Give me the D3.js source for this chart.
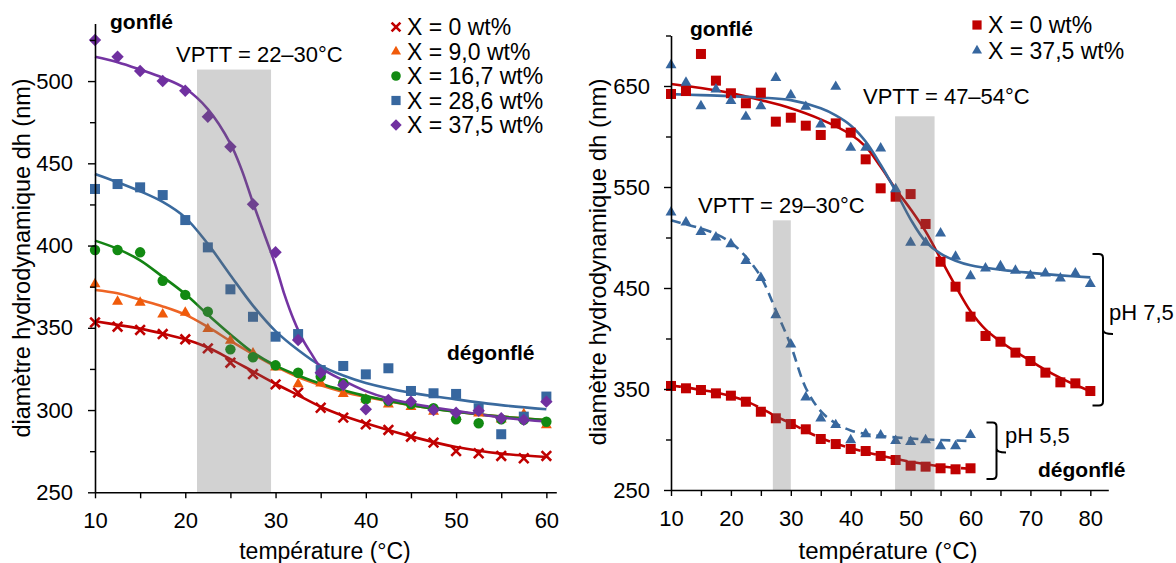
<!DOCTYPE html>
<html><head><meta charset="utf-8">
<script src="https://cdn.jsdelivr.net/npm/d3@7"></script>
<style>
body{margin:0;background:#fff;}
svg{display:block;font-family:"Liberation Sans",Arial,sans-serif;}
</style></head>
<body>
<svg id="chart" width="1176" height="563"></svg>
<script>
// ---------- DATA: left panel ----------
const tempL = [10,12.5,15,17.5,20,22.5,25,27.5,30,32.5,35,37.5,40,42.5,45,47.5,50,52.5,55,57.5,60];
const seriesNamesL = ["X = 0 wt%","X = 9,0 wt%","X = 16,7 wt%","X = 28,6 wt%","X = 37,5 wt%"];
const x0  = [353.3,350.7,348.7,346.2,343,337.5,328.8,321.9,315.6,310.6,301.4,295.4,291.3,287.9,283.8,280.2,275.1,273.7,272.1,270.7,272.1];
const x9  = [376.6,365.9,365.3,358.2,359.2,349.3,342.2,334.5,326,315.8,316.3,309.8,306.5,303.5,302,299,296,298,294.4,297.6,290.9];
const x16 = [397.3,397.3,395.9,378.6,370,359.8,336.9,332.1,327.2,322.7,320.3,316.3,306.5,305.5,303.7,301.1,294.4,292,294.4,294,292.9];
const x28 = [434.4,437.4,435.4,430.7,415.5,398.9,373.4,356.7,344.6,346.2,324.3,326.8,321.7,325.4,311.6,310.2,309.8,301.1,285.3,296,308.2];
const x37 = [525,514.8,506.1,500,494.1,478.3,460.1,425.1,395.9,342.6,322.7,315.2,300.5,306.1,305.1,300,298.4,299.6,295,294,305.1];
// fitted curves
const fitT_L = [10,12.5,15,17.5,20,22.5,25,27.5,30,32.5,35,37.5,40,45,50,55,60];
const fit0  = [354,351.8,349.5,346.5,343,338,331,323.5,316,309,302,296.5,292,284,277.5,273.5,271.5];
const fit9  = [373,371,367,363,358,350.5,342,334,326.5,320,315,311,308,303,299,296,294];
const fit16 = [403,398,391,381,370.5,358,346,335,327,321,316,312,308.5,303,299,296,294];
const fit28 = [443.5,438.5,433,426.5,417,401,382,363.5,348,336.5,327,321,316.5,310.5,306.5,303,300.5];
const fitT37 = [10,12.5,15,17.5,20,22.5,25,26.25,27.5,28.75,30,31,32,33,34,35,37.5,40,42.5,45,50,55,60];
const fit37 = [514.8,511.5,507,502,495.5,483,462,446,426,407,388,370,355,343,334,326,318,311.5,307,304,299.5,295.5,293];

// ---------- DATA: right panel ----------
const tempR75 = [10,12.5,15,17.5,20,22.5,25,27.5,30,32.5,35,37.5,40,42.5,45,47.5,50,52.5,55,57.5,60,62.5,65,67.5,70,72.5,75,77.5,80];
const seriesNamesR = ["X = 0 wt%","X = 37,5 wt%"];
const r75 = [642.1,645,681.7,655.3,642.8,632.9,643.4,614.7,618.6,610.7,601.5,613,603.8,577.4,548.7,540.4,543,513.4,476,451.3,421.6,402.5,396.8,386,377.7,366.2,356.6,355.6,348];
const b75 = [670.8,653.3,630.2,646.7,635.4,619.6,630.2,658.2,641.1,629.5,612,649.3,588.9,588.9,588.3,548,494.9,494.9,504.1,481,461.9,469.5,471.8,467.2,462.2,464.5,459.6,464.5,454];
const tempR55 = [10,12.5,15,17.5,20,22.5,25,27.5,30,32.5,35,37.5,40,42.5,45,47.5,50,52.5,55,57.5,60];
const b55 = [525,515,505.7,500.2,493.6,477,460,423.3,394.3,341.8,321,314.4,299.5,305.4,304.2,298.8,297.8,299.5,293.6,293.6,304.5];
const r55 = [353,350.7,349,345.7,343.4,337.4,327.5,321,315.3,310.1,300.5,295.5,290.6,288.6,283.7,279.7,274.1,273.1,271.5,270.5,271.5];
// fitted curves
const fitT_R75r = [10,15,20,25,30,35,40,42.5,45,47.5,50,52.5,55,57.5,60,62.5,65,67.5,70,72.5,75,77.5,80];
const fitR75r = [652,648,643,636,628,617,602,590,570,548,528,506,479,452,427,409,397,387,378,369,361,354,348];
const fitT_R75b = [10,15,20,25,30,35,37.5,40,42.5,45,47.5,50,52.5,55,57.5,60,65,70,75,80];
const fitR75b = [642,641,640,638.5,636,628,621,611,595,572,546,518,496,484,477,472.5,468,465,462.5,460.5];
const fitT_R55 = [10,12.5,15,17.5,20,22.5,25,27.5,30,32.5,35,37.5,40,42.5,45,50,55,60];
const fitR55b = [517,513,509,503.5,495,481,461,428,393,351,328,316,309,305.5,303.5,301,299.5,298.5];
const fitR55r = [353.5,351.5,349,346.5,343,338,331,323,316,308.5,301.5,296,291.5,287.5,284,278,273.5,271];

// ---------- SCALES ----------
const svg = d3.select("#chart");
const xL = d3.scaleLinear().domain([10,61.1]).range([95,556.3]);
const yL = d3.scaleLinear().domain([250,535]).range([492.3,23.5]);
const xR = d3.scaleLinear().domain([10,83]).range([671,1108.3]);
const yR = d3.scaleLinear().domain([250,700]).range([490,35.5]);

const C = {red:"#c00000", orange:"#f05a0a", green:"#128a12", blue:"#37679f", purple:"#7030a0"};
const LC = {red:"#c00000", orange:"#ee6424", green:"#138313", blue:"#3a6a9e", purple:"#7434a2"};

// ---------- markers ----------
function marker(g, type, x, y, color, s=1){
  if(type==="x"){
    const h=4.8*s;
    g.append("path").attr("d",`M${x-h},${y-h}L${x+h},${y+h}M${x-h},${y+h}L${x+h},${y-h}`)
      .attr("stroke",color).attr("stroke-width",2.6).attr("fill","none");
  } else if(type==="tri"){
    g.append("path").attr("d",d3.symbol(d3.symbolTriangle,52*s*s)()).attr("transform",`translate(${x},${y})`).attr("fill",color);
  } else if(type==="circle"){
    g.append("circle").attr("cx",x).attr("cy",y).attr("r",5.2*s).attr("fill",color);
  } else if(type==="square"){
    const h=5*s;
    g.append("rect").attr("x",x-h).attr("y",y-h).attr("width",2*h).attr("height",2*h).attr("fill",color);
  } else if(type==="diamond"){
    const h=6.2*s;
    g.append("path").attr("d",`M${x},${y-h}L${x+h},${y}L${x},${y+h}L${x-h},${y}Z`).attr("fill",color);
  }
}

function drawCurve(g, xs, ys, xScale, yScale, color, dash){
  const line = d3.line().x(d=>xScale(d[0])).y(d=>yScale(d[1])).curve(d3.curveCatmullRom.alpha(0.5));
  const p = g.append("path").attr("d", line(xs.map((t,i)=>[t,ys[i]])))
    .attr("fill","none").attr("stroke",color).attr("stroke-width",2.6);
  if(dash) p.attr("stroke-dasharray",dash);
}
function drawPoints(g, xs, ys, xScale, yScale, type, color){
  xs.forEach((t,i)=>marker(g,type,xScale(t),yScale(ys[i]),color));
}

// ---------- axes ----------
function drawAxes(xScale, yScale, xTicks, yTicks, isMajor, pad){
  const y0 = yScale.range()[0], x0p = xScale.range()[0];
  const gx = svg.append("g").attr("transform",`translate(0,${y0})`)
    .call(d3.axisBottom(xScale).tickValues(xTicks).tickSize(6).tickSizeOuter(0).tickPadding(14)
      .tickFormat(d=> d%10===0 ? d : ""));
  const gy = svg.append("g").attr("transform",`translate(${x0p},0)`)
    .call(d3.axisLeft(yScale).tickValues(yTicks).tickSize(7).tickSizeOuter(0).tickPadding(pad)
      .tickFormat(d=> isMajor(d) ? d : ""));
  gy.selectAll(".tick line").attr("x2",d=> isMajor(d) ? -7 : -5);
  [gx,gy].forEach(g=>{
    g.selectAll("path.domain").attr("stroke","#000").attr("stroke-width",1.6);
    g.selectAll(".tick line").attr("stroke","#000").attr("stroke-width",1.4);
    g.selectAll(".tick text").attr("fill","#000").style("font-size","22px").style("font-family","'Liberation Sans',Arial,sans-serif");
  });
}

// ===== LEFT PANEL =====
const gL = svg.append("g");
drawCurve(gL, fitT_L, fit0, xL, yL, LC.red);
drawCurve(gL, fitT_L, fit9, xL, yL, LC.orange);
drawCurve(gL, fitT_L, fit16, xL, yL, LC.green);
drawCurve(gL, fitT_L, fit28, xL, yL, LC.blue);
drawCurve(gL, fitT37, fit37, xL, yL, LC.purple);
drawPoints(gL, tempL, x9, xL, yL, "tri", C.orange);
drawPoints(gL, tempL, x16, xL, yL, "circle", C.green);
drawPoints(gL, tempL, x28, xL, yL, "square", C.blue);
drawPoints(gL, tempL, x0, xL, yL, "x", C.red);
drawPoints(gL, tempL, x37, xL, yL, "diamond", C.purple);
// shaded VPTT band (drawn over data, translucent)
const bandsL = [[21.3,29.5,507]];
bandsL.forEach(b=>{
  gL.append("rect").attr("x",xL(b[0])).attr("width",xL(b[1])-xL(b[0]))
    .attr("y",yL(b[2])).attr("height",yL(250)-yL(b[2]))
    .attr("fill","#6a6a6a").attr("fill-opacity",0.3);
});
drawAxes(xL, yL, d3.range(10,61,5), d3.range(250,535,25), d=>d%50===0, 15);

// ===== RIGHT PANEL =====
const gR = svg.append("g");
drawCurve(gR, fitT_R55, fitR55r, xR, yR, LC.red, "10,6");
drawCurve(gR, fitT_R55, fitR55b, xR, yR, LC.blue, "10,6");
drawCurve(gR, fitT_R75r, fitR75r, xR, yR, LC.red);
drawCurve(gR, fitT_R75b, fitR75b, xR, yR, LC.blue);
drawPoints(gR, tempR55, r55, xR, yR, "square", C.red);
drawPoints(gR, tempR55, b55, xR, yR, "tri", C.blue);
drawPoints(gR, tempR75, r75, xR, yR, "square", C.red);
drawPoints(gR, tempR75, b75, xR, yR, "tri", C.blue);
const bandsR = [[27,30,517],[47.4,54,620]];
bandsR.forEach(b=>{
  gR.append("rect").attr("x",xR(b[0])).attr("width",xR(b[1])-xR(b[0]))
    .attr("y",yR(b[2])).attr("height",yR(250)-yR(b[2]))
    .attr("fill","#6a6a6a").attr("fill-opacity",0.3);
});
drawAxes(xR, yR, d3.range(10,81,5), d3.range(250,701,50), d=>(d-250)%100===0, 14);

// ---------- text ----------
function txt(x,y,s,size,opts={}){
  const t = svg.append("text").attr("x",x).attr("y",y).text(s).style("font-size",size+"px").attr("fill","#000");
  if(opts.bold) t.style("font-weight","bold");
  if(opts.anchor) t.attr("text-anchor",opts.anchor);
  if(opts.rotate) t.attr("transform",`rotate(-90,${x},${y})`);
  return t;
}
txt(110,29,"gonflé",21,{bold:true});
txt(447,360,"dégonflé",21,{bold:true});
txt(176,61.5,"VPTT = 22–30°C",22);
txt(325,559,"température (°C)",23,{anchor:"middle"});
txt(30,258,"diamètre hydrodynamique dh (nm)",23.5,{anchor:"middle",rotate:true});

txt(690,36,"gonflé",21,{bold:true});
txt(1038,476.5,"dégonflé",21,{bold:true});
txt(698,213,"VPTT = 29–30°C",22);
txt(863,104,"VPTT = 47–54°C",22);
txt(888,559,"température (°C)",24,{anchor:"middle"});
txt(606,262,"diamètre hydrodynamique dh (nm)",24,{anchor:"middle",rotate:true});
txt(1109,320,"pH 7,5",22);
txt(1005,443,"pH 5,5",22);

// braces
function brace(xl, xv, xn, top, mid, bot){
  const r=4;
  svg.append("path").attr("d",
    `M${xl},${top}L${xv-r},${top}Q${xv},${top} ${xv},${top+r}L${xv},${mid-r}Q${xv},${mid} ${xn},${mid}`+
    `M${xv},${mid-r}Q${xv},${mid} ${xv},${mid+r}L${xv},${bot-r}Q${xv},${bot} ${xv-r},${bot}L${xl},${bot}`)
    .attr("fill","none").attr("stroke","#000").attr("stroke-width",2);
}
brace(1092.5,1103,1113,254,334,405.5);
brace(986.5,996.5,1006,422.5,452.5,479);

// ---------- legends ----------
const legL = [["x",C.red],["tri",C.orange],["circle",C.green],["square",C.blue],["diamond",C.purple]];
const legLY = [27,51.5,76,100.5,125];
legL.forEach((m,i)=>{
  marker(svg,m[0],396,legLY[i],m[1],0.92);
  txt(407,legLY[i],seriesNamesL[i],23).attr("dy","0.36em");
});
const legR = [["square",C.red],["tri",C.blue]];
const legRY = [25,50.5];
legR.forEach((m,i)=>{
  marker(svg,m[0],977,legRY[i],m[1],0.92);
  txt(988,legRY[i],seriesNamesR[i],23).attr("dy","0.36em");
});
</script>
</body></html>
